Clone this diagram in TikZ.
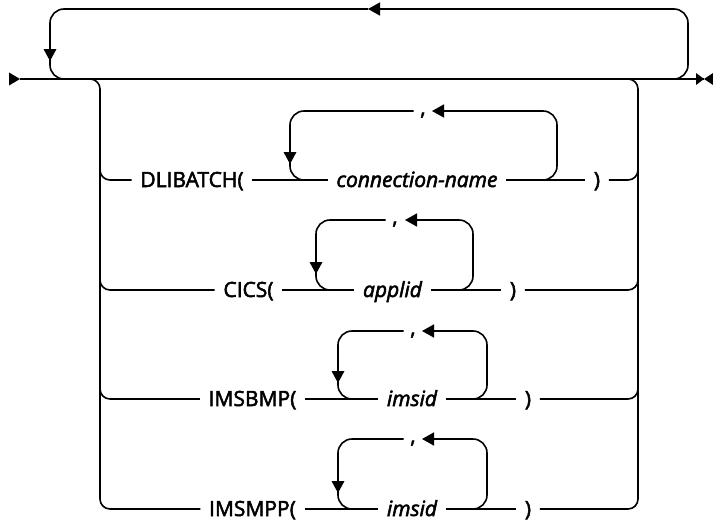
\documentclass[tikz,border=0pt]{standalone}
\usepackage{fontspec}
\newfontfamily\diagfont[FakeBold=2.5]{Open Sans}
\usetikzlibrary{arrows.meta}
\begin{document}
\begin{tikzpicture}[x=1pt,y=-1pt,line width=1.6pt,
  lbl/.style={inner xsep=8pt,inner ysep=0pt,text height=14pt,text depth=0pt,font=\diagfont\fontsize{21}{24}\selectfont},
  varlbl/.style={lbl,font=\diagfont\fontsize{21}{24}\selectfont\itshape},
  commalbl/.style={inner xsep=6pt,inner ysep=0pt,anchor=base,font=\diagfont\fontsize{21}{24}\selectfont},
  rcorner/.style={rounded corners=14pt},
  dcorner/.style={rounded corners=10pt},
  looptip/.style={-{Triangle[length=12pt,width=13pt]}}
]
\useasboundingbox (0,0) rectangle (713,525);

% main line
\coordinate (S) at (20,79);
\coordinate (E) at (704,79);
\draw (S) -- (E);
\fill (S) -- ++(-11,-6.5) -- ++(0,13) -- cycle;
\fill (E) -- ++(-8,-6) -- ++(0,12) -- cycle;
\fill (E) -- ++(9,-6) -- ++(0,12) -- cycle;

% top repeat loop
\coordinate (TL) at (70,79);
\coordinate (TR) at (668,79);
\coordinate (TA) at (368,9);
\draw[rcorner] (TL) -| (50,9) -- (TA);
\draw[rcorner,looptip] (TR) -| (688,9) -- (TA);
\fill (50,61) -- ++(-6.5,-12) -- ++(13,0) -- cycle;

% row nodes
\node[lbl] (o1) at (192,180) {DLIBATCH(};
\node[varlbl] (i1) at (417,180) {connection-name};
\node[lbl] (c1) at (597,180) {)};

\node[lbl] (o2) at (248.5,290) {CICS(};
\node[varlbl] (i2) at (392.5,290) {applid};
\node[lbl] (c2) at (513,290) {)};

\node[lbl] (o3) at (252.5,399) {IMSBMP(};
\node[varlbl] (i3) at (412,399) {imsid};
\node[lbl] (c3) at (528,399) {)};

\node[lbl] (o4) at (252.5,509) {IMSMPP(};
\node[varlbl] (i4) at (412,509) {imsid};
\node[lbl] (c4) at (528,509) {)};

% left drop
\draw[dcorner] (90,79) -| (100,509) -- (o4.west);
\draw[dcorner] (100,160) |- (o1.west);
\draw[dcorner] (100,270) |- (o2.west);
\draw[dcorner] (100,380) |- (o3.west);

% right drop
\draw[dcorner] (c4.east) -| (638,79) -- (628,79);
\draw[dcorner] (c1.east) -| (638,160);
\draw[dcorner] (c2.east) -| (638,270);
\draw[dcorner] (c3.east) -| (638,380);

% row lines
\draw (o1.east) -- (i1.west); \draw (i1.east) -- (c1.west);
\draw (o2.east) -- (i2.west); \draw (i2.east) -- (c2.west);
\draw (o3.east) -- (i3.west); \draw (i3.east) -- (c3.west);
\draw (o4.east) -- (i4.west); \draw (i4.east) -- (c4.west);

% repeat loops
\node[commalbl] (k1) at (423,115) {,};
\coordinate (a1) at (432,111);
\draw[rcorner] (310,180) -| (290,111) -- (k1.west |- a1);
\draw[rcorner,looptip] (537,180) -| (557,111) -- (a1);
\fill (290,164) -- ++(-6.5,-12) -- ++(13,0) -- cycle;

\node[commalbl] (k2) at (395,224) {,};
\coordinate (a2) at (405,220);
\draw[rcorner] (336,290) -| (316,220) -- (k2.west |- a2);
\draw[rcorner,looptip] (453,290) -| (473,220) -- (a2);
\fill (316,274) -- ++(-6.5,-12) -- ++(13,0) -- cycle;

\node[commalbl] (k3) at (413,335) {,};
\coordinate (a3) at (422,331);
\draw[rcorner] (358,399) -| (338,331) -- (k3.west |- a3);
\draw[rcorner,looptip] (467,399) -| (487,331) -- (a3);
\fill (338,383) -- ++(-6.5,-12) -- ++(13,0) -- cycle;

\node[commalbl] (k4) at (413,443) {,};
\coordinate (a4) at (422,439);
\draw[rcorner] (358,509) -| (338,439) -- (k4.west |- a4);
\draw[rcorner,looptip] (467,509) -| (487,439) -- (a4);
\fill (338,493) -- ++(-6.5,-12) -- ++(13,0) -- cycle;
\end{tikzpicture}
\end{document}
